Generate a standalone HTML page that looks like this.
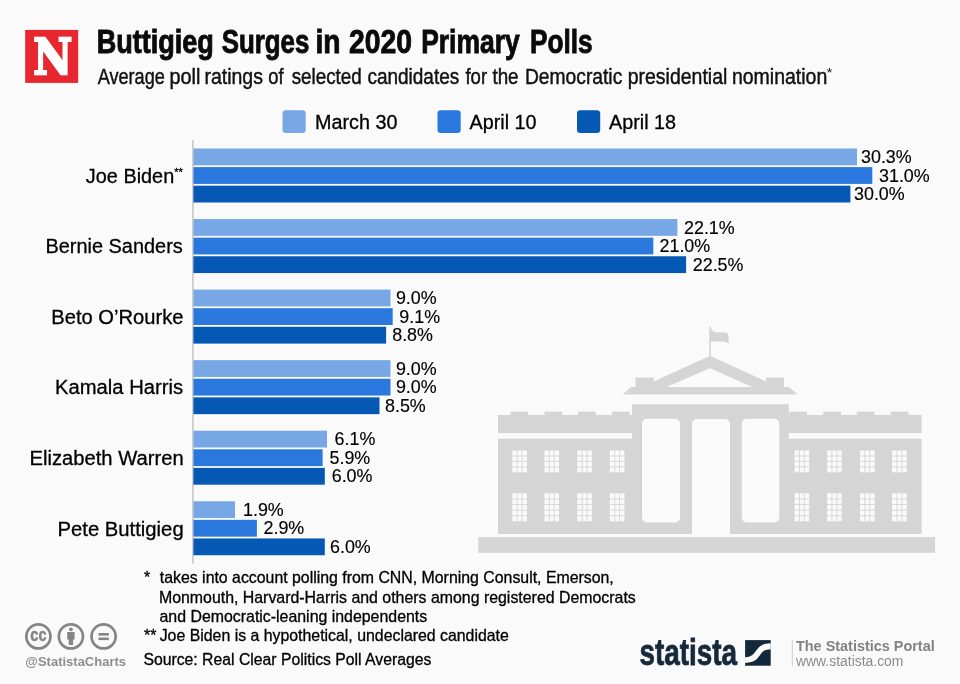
<!DOCTYPE html>
<html lang="en"><head><meta charset="utf-8"><title>Buttigieg Surges in 2020 Primary Polls</title>
<style>
html,body{margin:0;padding:0;background:#fafafa;}
body{width:960px;height:684px;overflow:hidden;font-family:"Liberation Sans",Arial,sans-serif;}
svg{display:block;}
text{font-family:"Liberation Sans",Arial,sans-serif;fill:#000;}
.cat,.leg,.fn{stroke:#000;stroke-width:0.3px;}.val{stroke:#000;stroke-width:0.15px;}
.cat{font-size:20px;}
.val{font-size:17.9px;}
.leg{font-size:20px;}
.fn{font-size:15.9px;}
</style></head><body>
<svg width="960" height="684" viewBox="0 0 960 684">
<rect width="960" height="684" fill="#fafafa"/>
<g id="logo">
<rect x="25.2" y="29.9" width="53" height="53" fill="#e8262f"/>
<text x="33.2" y="74.2" style="font-family:'DejaVu Serif','Liberation Serif',serif;font-weight:bold;font-size:49px;fill:#fff;stroke:#fff;stroke-width:2.4px;stroke-linejoin:miter" textLength="39" lengthAdjust="spacingAndGlyphs">N</text>
</g>
<text y="52.6" style="font-weight:bold;font-size:33.5px;fill:#0a0a0a;stroke:#0a0a0a;stroke-width:0.9px"><tspan x="96.64" textLength="117.22" lengthAdjust="spacingAndGlyphs">Buttigieg</tspan> <tspan x="221.71" textLength="87.66" lengthAdjust="spacingAndGlyphs">Surges</tspan> <tspan x="315.48" textLength="25.07" lengthAdjust="spacingAndGlyphs">in</tspan> <tspan x="348.97" textLength="62.99" lengthAdjust="spacingAndGlyphs">2020</tspan> <tspan x="421.18" textLength="98.51" lengthAdjust="spacingAndGlyphs">Primary</tspan> <tspan x="529.95" textLength="62.68" lengthAdjust="spacingAndGlyphs">Polls</tspan></text>
<text y="83.8" style="font-size:21.8px;fill:#111;stroke:#111;stroke-width:0.45px"><tspan x="97.68" textLength="67.15" lengthAdjust="spacingAndGlyphs">Average</tspan> <tspan x="169.44" textLength="30.92" lengthAdjust="spacingAndGlyphs">poll</tspan> <tspan x="204.42" textLength="58.56" lengthAdjust="spacingAndGlyphs">ratings</tspan> <tspan x="268.20" textLength="15.30" lengthAdjust="spacingAndGlyphs">of</tspan> <tspan x="291.70" textLength="70.05" lengthAdjust="spacingAndGlyphs">selected</tspan> <tspan x="367.41" textLength="91.80" lengthAdjust="spacingAndGlyphs">candidates</tspan> <tspan x="465.46" textLength="21.63" lengthAdjust="spacingAndGlyphs">for</tspan> <tspan x="492.43" textLength="26.18" lengthAdjust="spacingAndGlyphs">the</tspan> <tspan x="524.89" textLength="97.40" lengthAdjust="spacingAndGlyphs">Democratic</tspan> <tspan x="627.71" textLength="99.62" lengthAdjust="spacingAndGlyphs">presidential</tspan> <tspan x="731.93" textLength="95.37" lengthAdjust="spacingAndGlyphs">nomination</tspan></text>
<text x="826.5" y="77" style="font-size:12px;fill:#1a1a1a" textLength="6" lengthAdjust="spacingAndGlyphs">*</text>
<rect x="282.5" y="110.2" width="23.2" height="22.8" rx="3.3" fill="#77a7e4"/>
<text class="leg" x="315.0" y="129.2" textLength="82.5" lengthAdjust="spacingAndGlyphs">March 30</text>
<rect x="437.5" y="110.2" width="23.2" height="22.8" rx="3.3" fill="#2a78dd"/>
<text class="leg" x="469.6" y="129.2" textLength="67.0" lengthAdjust="spacingAndGlyphs">April 10</text>
<rect x="577.0" y="110.2" width="23.2" height="22.8" rx="3.3" fill="#0558b4"/>
<text class="leg" x="609.0" y="129.2" textLength="67.0" lengthAdjust="spacingAndGlyphs">April 18</text>
<g id="wh" fill="#d5d5d5">
<rect x="478.3" y="537.1" width="456.8" height="15.7"/>
<rect x="498" y="415" width="135" height="18"/>
<rect x="498" y="438.7" width="135" height="95.3"/>
<rect x="787" y="415" width="134.6" height="18"/>
<rect x="787" y="438.7" width="134.6" height="95.3"/>
<rect x="510.5" y="411.7" width="17.7" height="4"/>
<rect x="890.8" y="411.7" width="17.7" height="4"/>
<rect x="544.5" y="411.7" width="17.7" height="4"/>
<rect x="856.8" y="411.7" width="17.7" height="4"/>
<rect x="578" y="411.7" width="17.7" height="4"/>
<rect x="823.3" y="411.7" width="17.7" height="4"/>
<rect x="612" y="411.7" width="17.7" height="4"/>
<rect x="789.3" y="411.7" width="17.7" height="4"/>
<path d="M632 404.2H788.8V534H730V424a5 5 0 0 0 -5 -5H697a5 5 0 0 0 -5 5V534H632Z"/>
<path d="M622.5 394.5L631 387H635.5V377.5H653.8V381.5L710 355.7L766 381.5V377.5H784V387H789L797.5 394.5Z"/>
<rect x="709.3" y="326.6" width="1.6" height="30"/>
<path d="M710.3 328.3C712 329 713 332.2 716 332.2H724.5C727 332.2 728.6 334 728.6 336.5V344.5C727.5 342.5 725.5 341.6 723 341.6H710.3Z"/>
</g>
<g fill="#fafafa">
<path d="M710 368.2L752.5 387H666.5Z"/>
<rect x="642" y="418.8" width="38" height="103.7" rx="5"/>
<rect x="741.8" y="418.8" width="37.5" height="103.7" rx="5"/>
<rect x="512.3" y="450.5" width="14.6" height="21.8"/>
<rect x="512.3" y="493.3" width="14.6" height="28"/>
<rect x="892.1" y="450.5" width="14.6" height="21.8"/>
<rect x="892.1" y="493.3" width="14.6" height="28"/>
<rect x="544.4" y="450.5" width="14.6" height="21.8"/>
<rect x="544.4" y="493.3" width="14.6" height="28"/>
<rect x="860" y="450.5" width="14.6" height="21.8"/>
<rect x="860" y="493.3" width="14.6" height="28"/>
<rect x="577.3" y="450.5" width="14.6" height="21.8"/>
<rect x="577.3" y="493.3" width="14.6" height="28"/>
<rect x="827.1" y="450.5" width="14.6" height="21.8"/>
<rect x="827.1" y="493.3" width="14.6" height="28"/>
<rect x="609.8" y="450.5" width="14.6" height="21.8"/>
<rect x="609.8" y="493.3" width="14.6" height="28"/>
<rect x="794.6" y="450.5" width="14.6" height="21.8"/>
<rect x="794.6" y="493.3" width="14.6" height="28"/>
</g>
<g stroke="#d5d5d5" stroke-width="0.9">
<line x1="517.167" y1="450.5" x2="517.167" y2="472.3"/>
<line x1="517.167" y1="493.3" x2="517.167" y2="521.3"/>
<line x1="522.033" y1="450.5" x2="522.033" y2="472.3"/>
<line x1="522.033" y1="493.3" x2="522.033" y2="521.3"/>
<line x1="512.3" y1="455.95" x2="526.9" y2="455.95"/>
<line x1="512.3" y1="461.4" x2="526.9" y2="461.4"/>
<line x1="512.3" y1="466.85" x2="526.9" y2="466.85"/>
<line x1="512.3" y1="498.9" x2="526.9" y2="498.9"/>
<line x1="512.3" y1="504.5" x2="526.9" y2="504.5"/>
<line x1="512.3" y1="510.1" x2="526.9" y2="510.1"/>
<line x1="512.3" y1="515.7" x2="526.9" y2="515.7"/>
<line x1="896.967" y1="450.5" x2="896.967" y2="472.3"/>
<line x1="896.967" y1="493.3" x2="896.967" y2="521.3"/>
<line x1="901.833" y1="450.5" x2="901.833" y2="472.3"/>
<line x1="901.833" y1="493.3" x2="901.833" y2="521.3"/>
<line x1="892.1" y1="455.95" x2="906.7" y2="455.95"/>
<line x1="892.1" y1="461.4" x2="906.7" y2="461.4"/>
<line x1="892.1" y1="466.85" x2="906.7" y2="466.85"/>
<line x1="892.1" y1="498.9" x2="906.7" y2="498.9"/>
<line x1="892.1" y1="504.5" x2="906.7" y2="504.5"/>
<line x1="892.1" y1="510.1" x2="906.7" y2="510.1"/>
<line x1="892.1" y1="515.7" x2="906.7" y2="515.7"/>
<line x1="549.267" y1="450.5" x2="549.267" y2="472.3"/>
<line x1="549.267" y1="493.3" x2="549.267" y2="521.3"/>
<line x1="554.133" y1="450.5" x2="554.133" y2="472.3"/>
<line x1="554.133" y1="493.3" x2="554.133" y2="521.3"/>
<line x1="544.4" y1="455.95" x2="559" y2="455.95"/>
<line x1="544.4" y1="461.4" x2="559" y2="461.4"/>
<line x1="544.4" y1="466.85" x2="559" y2="466.85"/>
<line x1="544.4" y1="498.9" x2="559" y2="498.9"/>
<line x1="544.4" y1="504.5" x2="559" y2="504.5"/>
<line x1="544.4" y1="510.1" x2="559" y2="510.1"/>
<line x1="544.4" y1="515.7" x2="559" y2="515.7"/>
<line x1="864.867" y1="450.5" x2="864.867" y2="472.3"/>
<line x1="864.867" y1="493.3" x2="864.867" y2="521.3"/>
<line x1="869.733" y1="450.5" x2="869.733" y2="472.3"/>
<line x1="869.733" y1="493.3" x2="869.733" y2="521.3"/>
<line x1="860" y1="455.95" x2="874.6" y2="455.95"/>
<line x1="860" y1="461.4" x2="874.6" y2="461.4"/>
<line x1="860" y1="466.85" x2="874.6" y2="466.85"/>
<line x1="860" y1="498.9" x2="874.6" y2="498.9"/>
<line x1="860" y1="504.5" x2="874.6" y2="504.5"/>
<line x1="860" y1="510.1" x2="874.6" y2="510.1"/>
<line x1="860" y1="515.7" x2="874.6" y2="515.7"/>
<line x1="582.167" y1="450.5" x2="582.167" y2="472.3"/>
<line x1="582.167" y1="493.3" x2="582.167" y2="521.3"/>
<line x1="587.033" y1="450.5" x2="587.033" y2="472.3"/>
<line x1="587.033" y1="493.3" x2="587.033" y2="521.3"/>
<line x1="577.3" y1="455.95" x2="591.9" y2="455.95"/>
<line x1="577.3" y1="461.4" x2="591.9" y2="461.4"/>
<line x1="577.3" y1="466.85" x2="591.9" y2="466.85"/>
<line x1="577.3" y1="498.9" x2="591.9" y2="498.9"/>
<line x1="577.3" y1="504.5" x2="591.9" y2="504.5"/>
<line x1="577.3" y1="510.1" x2="591.9" y2="510.1"/>
<line x1="577.3" y1="515.7" x2="591.9" y2="515.7"/>
<line x1="831.967" y1="450.5" x2="831.967" y2="472.3"/>
<line x1="831.967" y1="493.3" x2="831.967" y2="521.3"/>
<line x1="836.833" y1="450.5" x2="836.833" y2="472.3"/>
<line x1="836.833" y1="493.3" x2="836.833" y2="521.3"/>
<line x1="827.1" y1="455.95" x2="841.7" y2="455.95"/>
<line x1="827.1" y1="461.4" x2="841.7" y2="461.4"/>
<line x1="827.1" y1="466.85" x2="841.7" y2="466.85"/>
<line x1="827.1" y1="498.9" x2="841.7" y2="498.9"/>
<line x1="827.1" y1="504.5" x2="841.7" y2="504.5"/>
<line x1="827.1" y1="510.1" x2="841.7" y2="510.1"/>
<line x1="827.1" y1="515.7" x2="841.7" y2="515.7"/>
<line x1="614.667" y1="450.5" x2="614.667" y2="472.3"/>
<line x1="614.667" y1="493.3" x2="614.667" y2="521.3"/>
<line x1="619.533" y1="450.5" x2="619.533" y2="472.3"/>
<line x1="619.533" y1="493.3" x2="619.533" y2="521.3"/>
<line x1="609.8" y1="455.95" x2="624.4" y2="455.95"/>
<line x1="609.8" y1="461.4" x2="624.4" y2="461.4"/>
<line x1="609.8" y1="466.85" x2="624.4" y2="466.85"/>
<line x1="609.8" y1="498.9" x2="624.4" y2="498.9"/>
<line x1="609.8" y1="504.5" x2="624.4" y2="504.5"/>
<line x1="609.8" y1="510.1" x2="624.4" y2="510.1"/>
<line x1="609.8" y1="515.7" x2="624.4" y2="515.7"/>
<line x1="799.467" y1="450.5" x2="799.467" y2="472.3"/>
<line x1="799.467" y1="493.3" x2="799.467" y2="521.3"/>
<line x1="804.333" y1="450.5" x2="804.333" y2="472.3"/>
<line x1="804.333" y1="493.3" x2="804.333" y2="521.3"/>
<line x1="794.6" y1="455.95" x2="809.2" y2="455.95"/>
<line x1="794.6" y1="461.4" x2="809.2" y2="461.4"/>
<line x1="794.6" y1="466.85" x2="809.2" y2="466.85"/>
<line x1="794.6" y1="498.9" x2="809.2" y2="498.9"/>
<line x1="794.6" y1="504.5" x2="809.2" y2="504.5"/>
<line x1="794.6" y1="510.1" x2="809.2" y2="510.1"/>
<line x1="794.6" y1="515.7" x2="809.2" y2="515.7"/>
</g>
<rect x="192.3" y="140" width="1.3" height="423.5" fill="#bbb"/>
<rect x="193.4" y="148.50" width="663.6" height="16.8" fill="#77a7e4"/>
<text class="val" x="861.00" y="163.0">30.3%</text>
<rect x="193.4" y="167.10" width="678.9" height="16.8" fill="#2a78dd"/>
<text class="val" x="879.00" y="181.6">31.0%</text>
<rect x="193.4" y="185.70" width="657.0" height="16.8" fill="#0558b4"/>
<text class="val" x="854.00" y="200.2">30.0%</text>
<text class="cat" x="85.84" y="182.7" textLength="88.40" lengthAdjust="spacingAndGlyphs">Joe Biden</text>
<text x="174.3" y="175.6" style="font-size:11px;stroke:#000;stroke-width:0.3px">**</text>
<rect x="193.4" y="219.05" width="484.0" height="16.8" fill="#77a7e4"/>
<text class="val" x="684.00" y="233.6">22.1%</text>
<rect x="193.4" y="237.65" width="459.9" height="16.8" fill="#2a78dd"/>
<text class="val" x="659.50" y="252.2">21.0%</text>
<rect x="193.4" y="256.25" width="492.7" height="16.8" fill="#0558b4"/>
<text class="val" x="692.75" y="270.8">22.5%</text>
<text class="cat" x="45.42" y="253.2" textLength="137.35" lengthAdjust="spacingAndGlyphs">Bernie Sanders</text>
<rect x="193.4" y="289.60" width="197.1" height="16.8" fill="#77a7e4"/>
<text class="val" x="395.90" y="304.1">9.0%</text>
<rect x="193.4" y="308.20" width="199.3" height="16.8" fill="#2a78dd"/>
<text class="val" x="399.30" y="322.7">9.1%</text>
<rect x="193.4" y="326.80" width="192.7" height="16.8" fill="#0558b4"/>
<text class="val" x="392.20" y="341.3">8.8%</text>
<text class="cat" x="51.30" y="323.8" textLength="132.20" lengthAdjust="spacingAndGlyphs">Beto O’Rourke</text>
<rect x="193.4" y="360.15" width="197.1" height="16.8" fill="#77a7e4"/>
<text class="val" x="395.90" y="374.6">9.0%</text>
<rect x="193.4" y="378.75" width="197.1" height="16.8" fill="#2a78dd"/>
<text class="val" x="395.90" y="393.2">9.0%</text>
<rect x="193.4" y="397.35" width="186.1" height="16.8" fill="#0558b4"/>
<text class="val" x="385.00" y="411.8">8.5%</text>
<text class="cat" x="54.99" y="394.3" textLength="128.09" lengthAdjust="spacingAndGlyphs">Kamala Harris</text>
<rect x="193.4" y="430.70" width="133.6" height="16.8" fill="#77a7e4"/>
<text class="val" x="334.60" y="445.2">6.1%</text>
<rect x="193.4" y="449.30" width="129.2" height="16.8" fill="#2a78dd"/>
<text class="val" x="329.50" y="463.8">5.9%</text>
<rect x="193.4" y="467.90" width="131.4" height="16.8" fill="#0558b4"/>
<text class="val" x="331.70" y="482.4">6.0%</text>
<text class="cat" x="29.50" y="464.9" textLength="154.15" lengthAdjust="spacingAndGlyphs">Elizabeth Warren</text>
<rect x="193.4" y="501.25" width="41.6" height="16.8" fill="#77a7e4"/>
<text class="val" x="243.00" y="515.8">1.9%</text>
<rect x="193.4" y="519.85" width="63.5" height="16.8" fill="#2a78dd"/>
<text class="val" x="263.50" y="534.4">2.9%</text>
<rect x="193.4" y="538.45" width="131.4" height="16.8" fill="#0558b4"/>
<text class="val" x="330.00" y="553.0">6.0%</text>
<text class="cat" x="57.49" y="535.5" textLength="126.17" lengthAdjust="spacingAndGlyphs">Pete Buttigieg</text>
<text class="fn" x="144" y="583.3">*</text>
<text class="fn" x="159.8" y="583.3" style="font-size:15.87px">takes into account polling from CNN, Morning Consult, Emerson,</text>
<text class="fn" x="158.9" y="602.5">Monmouth, Harvard-Harris and others among registered Democrats</text>
<text class="fn" x="159.5" y="621.5">and Democratic-leaning independents</text>
<text class="fn" x="144" y="640.5">**</text>
<text class="fn" x="159.7" y="640.5" style="font-size:15.86px">Joe Biden is a hypothetical, undeclared candidate</text>
<text class="fn" x="143.4" y="665" style="font-size:15.77px">Source: Real Clear Politics Poll Averages</text>
<g id="cc" fill="none" stroke="#858585" stroke-width="2.7">
<circle cx="38.4" cy="636.4" r="12.05"/>
<circle cx="70.9" cy="636.4" r="12.05"/>
<circle cx="103.6" cy="636.4" r="12.05"/>
</g>
<text x="30.3" y="640.9" style="font-weight:bold;font-size:17.5px;fill:#858585;stroke:#858585;stroke-width:0.5px" textLength="16.2" lengthAdjust="spacingAndGlyphs">cc</text>
<g fill="#858585"><circle cx="70.9" cy="629.3" r="1.9"/><path d="M67.2 632h7.4v7.4h-1.5v5.7h-4.4v-5.7h-1.5z"/>
<rect x="98.5" y="633" width="10.3" height="2.6"/><rect x="98.5" y="637.5" width="10.3" height="2.6"/></g>
<text x="25.3" y="665.6" style="font-weight:bold;font-size:12.4px;fill:#8e8e8e" textLength="100.7" lengthAdjust="spacingAndGlyphs">@StatistaCharts</text>
<text x="639.5" y="665.1" style="font-weight:bold;font-size:36.5px;fill:#16293b;stroke:#16293b;stroke-width:0.8px" textLength="97.6" lengthAdjust="spacingAndGlyphs">statista</text>
<g transform="translate(745.1 640.1) scale(25.6)">
<rect width="1" height="1" fill="#14283c"/>
<path d="M0 0.67C0.12 0.665 0.2 0.64 0.27 0.59C0.4 0.5 0.45 0.36 0.55 0.27C0.65 0.17 0.8 0.125 1 0.12V0.355C0.9 0.36 0.8 0.37 0.72 0.43C0.6 0.52 0.56 0.66 0.44 0.76C0.33 0.85 0.18 0.885 0 0.89Z" fill="#fdfdfd"/>
</g>
<rect x="791.8" y="639.7" width="1" height="26.5" fill="#cfcfcf"/>
<text x="796" y="650.7" style="font-weight:bold;font-size:14.4px;fill:#828282" textLength="138.7" lengthAdjust="spacingAndGlyphs">The Statistics Portal</text>
<text x="796" y="665.6" style="font-size:14px;fill:#8c8c8c" textLength="107.4" lengthAdjust="spacingAndGlyphs">www.statista.com</text>
</svg></body></html>
